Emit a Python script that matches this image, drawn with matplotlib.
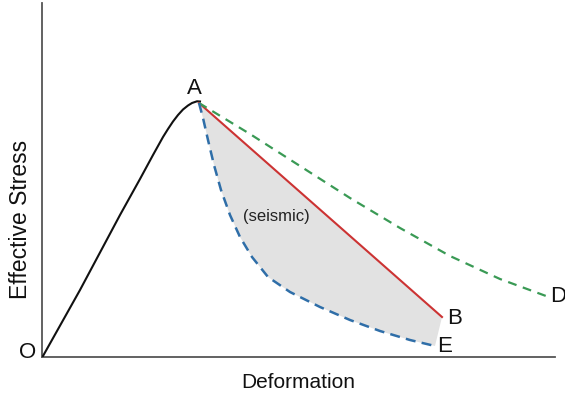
import matplotlib
matplotlib.use("Agg")
import matplotlib.pyplot as plt
import numpy as np

plt.rcParams['font.family'] = ['Liberation Sans', 'DejaVu Sans']

# loading curve O -> A
load_x = [1, 38, 78, 88, 98, 111, 116, 121, 126, 131, 136, 141, 146, 150, 155, 158]
load_y = [1, 67, 142, 160, 178, 202, 211, 220, 228, 235.5, 242, 247.5, 251.5, 254, 255.7, 255.5]

# A -> B (red, solid)
red_x = [157, 400]
red_y = [254, 40]

# A -> D (green, dashed)
green_x = [157, 208, 258, 308, 358, 408, 458, 504]
green_y = [254, 223, 191, 159, 129, 101, 78, 61]

# A -> E (blue, dashed)
blue_x = [157, 161, 166, 172, 179, 188, 198, 210, 226, 248, 278, 308, 338, 368, 393]
blue_y = [254, 239, 217, 192, 167, 142, 120, 100, 80, 65, 50, 37, 26, 17, 11]

fig = plt.figure(figsize=(5.65, 3.93), dpi=100)
ax = fig.add_axes([42/565, 36/393, 513/565, 354/393])
ax.set_xlim(0, 513)
ax.set_ylim(0, 354)

# shaded seismic region between red and blue
poly_x = np.concatenate([red_x, blue_x[::-1]])
poly_y = np.concatenate([red_y, blue_y[::-1]])
ax.fill(poly_x, poly_y, color='#e2e2e2', lw=0, zorder=1)

ax.plot(load_x, load_y, color='#111111', lw=1.5, zorder=3)
ax.plot(red_x, red_y, color='#cc3333', lw=1.5, zorder=3)
ax.plot(green_x, green_y, color='#3a9a55', lw=1.6, ls=(0, (4, 3)), zorder=3)
ax.plot(blue_x, blue_y, color='#2f6ea8', lw=1.8, ls=(0, (4, 2.5)), zorder=3)

fs = 16
ax.text(152, 268, 'A', fontsize=fs, ha='center', va='center', color='#111')
ax.text(413, 39, 'B', fontsize=fs, ha='center', va='center', color='#111')
ax.text(516, 60, 'D', fontsize=fs, ha='center', va='center', color='#111', clip_on=False)
ax.text(403, 10, 'E', fontsize=fs, ha='center', va='center', color='#111')
ax.text(-14, 5, 'O', fontsize=fs, ha='center', va='center', color='#111', clip_on=False)
ax.text(234, 141, '(seismic)', fontsize=12, ha='center', va='center', color='#222')

ax.set_xlabel('Deformation', fontsize=15, color='#111')
ax.set_ylabel('Effective Stress', fontsize=16.5, color='#111')
ax.xaxis.set_label_coords(0.5, -0.045)
ax.yaxis.set_label_coords(-0.02, 0.39)

ax.set_xticks([])
ax.set_yticks([])
for s in ['top', 'right']:
    ax.spines[s].set_visible(False)
for s in ['left', 'bottom']:
    ax.spines[s].set_color('#555555')
    ax.spines[s].set_linewidth(1.3)

fig.savefig('out.png', dpi=100)
